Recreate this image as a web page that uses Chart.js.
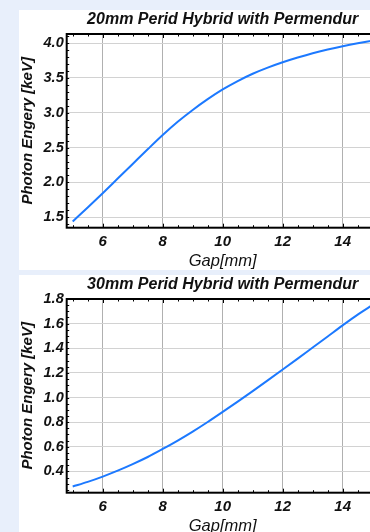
<!DOCTYPE html>
<html>
<head>
<meta charset="utf-8">
<script src="https://cdn.jsdelivr.net/npm/chart.js@4/dist/chart.umd.min.js"></script>
<style>
  html, body { margin:0; padding:0; }
  body { width:370px; height:532px; overflow:hidden; background:#e8effb; position:relative; }
  .panel { position:absolute; left:19px; background:#fff; }
  canvas { display:block; }
</style>
</head>
<body>
<div class="panel" style="top:10px;"><canvas id="c1" width="370" height="260"></canvas></div>
<div class="panel" style="top:275px;"><canvas id="c2" width="370" height="260"></canvas></div>
<script>
// ---- data ----
const gapMm = [5,5.5,6,6.5,7,7.5,8,8.5,9,9.5,10,10.5,11,11.5,12,12.5,13,13.5,14,14.5,15];
const energy20mm = [1.44,1.64,1.845,2.055,2.265,2.475,2.68,2.87,3.04,3.195,3.335,3.455,3.56,3.648,3.725,3.793,3.855,3.908,3.955,3.997,4.035];
const energy30mm = [0.278,0.315,0.358,0.406,0.459,0.517,0.582,0.65,0.723,0.801,0.883,0.967,1.052,1.139,1.227,1.316,1.406,1.496,1.586,1.673,1.752];
const titles = ['20mm Perid Hybrid with Permendur','30mm Perid Hybrid with Permendur'];
const xTitle = 'Gap[mm]';
const yTitle = 'Photon Engery [keV]';
const xTickValues = [6,8,10,12,14];
const yTickValues20 = [1.5,2.0,2.5,3.0,3.5,4.0];
const yTickValues30 = [0.4,0.6,0.8,1.0,1.2,1.4,1.6,1.8];

const FONT = "'Liberation Sans', Arial, sans-serif";

const framePlugin = {
  id: 'frame',
  afterDraw(chart, args, opts) {
    const {ctx, chartArea: a, scales} = chart;
    ctx.save();
    ctx.strokeStyle = '#000';
    ctx.lineWidth = 1;
    const xs = scales.x;
    for (let v = 5; v <= 15.01; v += 0.5) {
      const px = Math.round(xs.getPixelForValue(v)) + 0.5;
      const len = (Math.abs(v/2 - Math.round(v/2)) < 1e-6) ? 4 : 2.5;
      ctx.beginPath(); ctx.moveTo(px, a.top); ctx.lineTo(px, a.top + len); ctx.stroke();
      ctx.beginPath(); ctx.moveTo(px, a.bottom); ctx.lineTo(px, a.bottom - len); ctx.stroke();
    }
    const ys = scales.y;
    const step = opts.yMinor;
    for (let v = Math.ceil(ys.min / step) * step; v <= ys.max + 1e-9; v += step) {
      const py = Math.round(ys.getPixelForValue(v)) + 0.5;
      ctx.beginPath(); ctx.moveTo(a.left, py); ctx.lineTo(a.left + 2.5, py); ctx.stroke();
    }
    ctx.lineWidth = 2;
    ctx.strokeRect(a.left, a.top, a.right - a.left, a.bottom - a.top);
    ctx.restore();
  }
};

function makeChart(id, title, values, yMin, yMax, yTicks, yMinor) {
  return new Chart(document.getElementById(id), {
    type: 'line',
    data: {
      datasets: [{
        data: gapMm.map((g, i) => ({x: g, y: values[i]})),
        borderColor: '#1c79ff',
        borderWidth: 2,
        pointRadius: 0,
        fill: false,
        cubicInterpolationMode: 'monotone'
      }]
    },
    options: {
      responsive: false,
      animation: false,
      clip: false,
      layout: { padding: { left: 0, right: 10.3, top: 0, bottom: 0 } },
      plugins: {
        legend: { display: false },
        tooltip: { enabled: false },
        title: {
          display: true, text: title, fullSize: false,
          color: '#111',
          font: { family: FONT, size: 16, weight: 'bold', style: 'italic', lineHeight: 1.2 },
          padding: { top: 0, bottom: 4.8 }
        },
        frame: { yMinor: yMinor }
      },
      scales: {
        x: {
          type: 'linear', min: 4.8, max: 15.2,
          afterFit(s) { s.height = 42.3; },
          afterBuildTicks(s) { s.ticks = xTickValues.map(v => ({value: v})); },
          ticks: {
            color: '#111', padding: 5,
            font: { family: FONT, size: 15, weight: 'bold', style: 'italic' },
            callback: v => String(v)
          },
          grid: { color: '#b0b0b0', lineWidth: 1, drawTicks: false },
          border: { display: false },
          title: {
            display: true, text: xTitle, color: '#111',
            font: { family: FONT, size: 16.5, style: 'italic', lineHeight: 1.0 },
            padding: { top: 0, bottom: 0 }
          }
        },
        y: {
          type: 'linear', min: yMin, max: yMax,
          afterFit(s) { s.width = 47.7; },
          afterBuildTicks(s) { s.ticks = yTicks.map(v => ({value: v})); },
          ticks: {
            color: '#111', padding: 3,
            font: { family: FONT, size: 14.5, weight: 'bold', style: 'italic' },
            callback: v => Number(v).toFixed(1)
          },
          grid: { color: '#d2d2d2', lineWidth: 1, drawTicks: false },
          border: { display: false },
          title: {
            display: true, text: yTitle, color: '#111',
            font: { family: FONT, size: 15, weight: 'bold', style: 'italic', lineHeight: 1.2 },
            padding: { top: 0, bottom: 0 }
          }
        }
      }
    },
    plugins: [framePlugin]
  });
}

makeChart('c1', titles[0], energy20mm, 1.35, 4.13, yTickValues20, 0.1);
makeChart('c2', titles[1], energy30mm, 0.227, 1.8, yTickValues30, 0.05);
</script>
</body>
</html>
